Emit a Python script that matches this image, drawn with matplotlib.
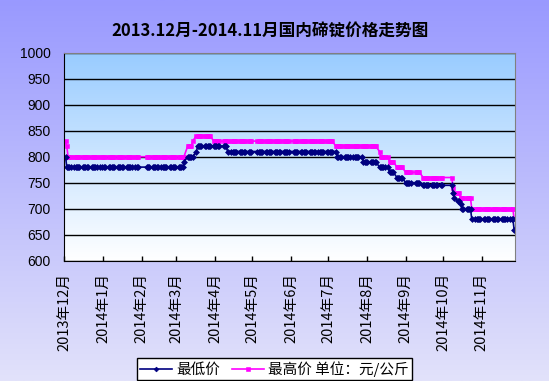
import matplotlib
matplotlib.use('Agg')
import matplotlib.pyplot as plt
import matplotlib.dates as mdates
import numpy as np
import pandas as pd

plt.rcParams['font.family'] = ['Noto Sans CJK SC', 'DejaVu Sans']

title = '2013.12月-2014.11月国内碲锭价格走势图'

# 价格变动日及新价格，其余交易日沿用前一日价格
low_dates = ['2013-12-02', '2013-12-03', '2014-03-07', '2014-03-10', '2014-03-17',
             '2014-03-18', '2014-04-11', '2014-07-08', '2014-07-29', '2014-08-11',
             '2014-08-19', '2014-08-25', '2014-09-01', '2014-09-15', '2014-10-09',
             '2014-10-10', '2014-10-13', '2014-10-15', '2014-10-16', '2014-10-24',
             '2014-11-27']
low_values = [800, 780, 790, 800, 810, 820, 810, 800, 790, 780,
              770, 760, 750, 745, 730, 720, 715, 710, 700, 680, 660]

high_dates = ['2013-12-02', '2013-12-03', '2013-12-04', '2014-03-10', '2014-03-14',
              '2014-03-17', '2014-03-31', '2014-07-07', '2014-08-11', '2014-08-12',
              '2014-08-19', '2014-08-25', '2014-09-01', '2014-09-15', '2014-10-09',
              '2014-10-10', '2014-10-15', '2014-10-24', '2014-11-27']
high_values = [830, 820, 800, 820, 830, 840, 830, 820, 810, 800,
               790, 780, 770, 760, 740, 730, 720, 700, 680]

# 无报价的休市日
holidays = ['2014-01-01', '2014-01-30', '2014-01-31', '2014-02-03', '2014-02-04',
            '2014-04-07', '2014-05-01', '2014-05-02', '2014-06-02', '2014-09-08',
            '2014-10-01', '2014-10-02', '2014-10-03', '2014-10-06', '2014-10-07']

month_ticks = pd.date_range('2013-12-01', '2014-11-01', freq='MS')
month_labels = ['%d年%d月' % (d.year, d.month) for d in month_ticks]

days = pd.bdate_range('2013-12-02', '2014-11-27')
days = days[~days.isin(pd.to_datetime(holidays))]
low = pd.Series(low_values, index=pd.to_datetime(low_dates)).reindex(days, method='ffill')
high = pd.Series(high_values, index=pd.to_datetime(high_dates)).reindex(days, method='ffill')

fig = plt.figure(figsize=(5.49, 3.81), dpi=100)

# figure background gradient
t = np.linspace(0, 1, 256)[:, None, None]
top = np.array([153, 153, 255]) / 255
bot = np.array([226, 226, 250]) / 255
bg = fig.add_axes([0, 0, 1, 1], zorder=-2)
bg.imshow(top + (bot - top) * t, extent=[0, 1, 0, 1], aspect='auto')
bg.axis('off')

pos = [64.3 / 549, 1 - 260.7 / 381, (515 - 64.3) / 549, 208 / 381]
pa = fig.add_axes(pos, zorder=-1)
ptop = np.array([153, 204, 255]) / 255
pbot = np.array([255, 255, 255]) / 255
pa.imshow(ptop + (pbot - ptop) * t, extent=[0, 1, 0, 1], aspect='auto')
pa.axis('off')

ax = fig.add_axes(pos, zorder=1)
ax.patch.set_alpha(0)

h2, = ax.plot(high.index, high.values, color='#FF00FF', lw=1.2, marker='s', ms=3.3,
              mew=0.4, label='最高价 单位：元/公斤')
h1, = ax.plot(low.index, low.values, color='#000080', lw=1.2, marker='D', ms=3.0,
              mew=0.5, label='最低价')

ax.set_ylim(600, 1000)
ax.set_yticks(range(600, 1001, 50))
ax.yaxis.grid(True, color='black', lw=1)
ax.set_axisbelow(True)
ax.set_xlim(mdates.date2num(pd.Timestamp('2013-12-01')),
            mdates.date2num(pd.Timestamp('2014-11-27')) + 0.7)
ax.set_xticks(mdates.date2num(month_ticks))
ax.set_xticklabels(month_labels, rotation=90, fontsize=10.5)
ax.tick_params(axis='x', direction='in', length=3.5, width=1, pad=9)
ax.tick_params(axis='y', length=0, pad=10, labelsize=10)
for lab in ax.get_yticklabels():
    lab.set_fontfamily(['Liberation Sans'])
for s in ['left', 'bottom']:
    ax.spines[s].set_color('black')
for s in ['top', 'right']:
    ax.spines[s].set_color('#808080')

fig.text(0.492, 0.916, title, ha='center', va='center', fontsize=12, fontweight='bold')

leg = fig.legend(handles=[h1, h2], loc='center', bbox_to_anchor=(0.5, 0.031), ncol=2,
                 fontsize=10.5, frameon=True, fancybox=False, edgecolor='black',
                 framealpha=1, borderpad=0.2, handlelength=2.2, columnspacing=0.8,
                 handletextpad=0.3, markerscale=0.8)
leg.get_frame().set_linewidth(1)

fig.savefig('out.png', dpi=100)
